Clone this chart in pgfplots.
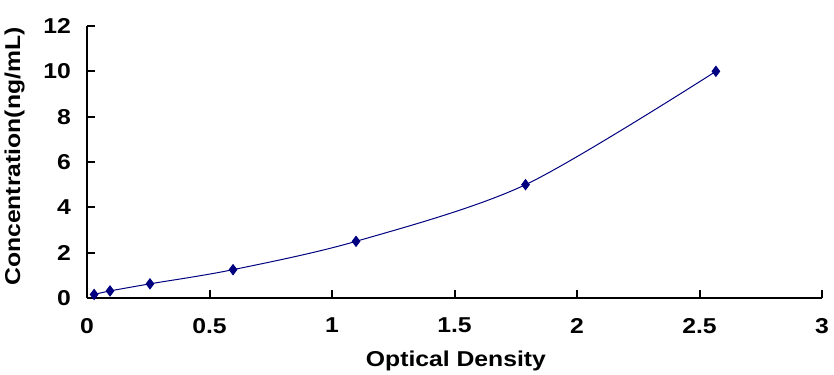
\documentclass[border=0pt]{standalone}
\usepackage{pgfplots}
\pgfplotsset{compat=1.18}
\usepackage{fontspec}
\setmainfont{Liberation Sans}[FakeStretch=1.15]
\definecolor{navy}{RGB}{0,0,128}
\newcommand{\lf}{\fontsize{21.5}{24}\selectfont\bfseries}
\begin{document}
\begin{tikzpicture}
\begin{axis}[
  scale only axis,
  width=735pt, height=272pt,
  xmin=0, xmax=3, ymin=0, ymax=12,
  xtick={0,0.5,1,1.5,2,2.5,3},
  xticklabels={0,0.5,1,1.5,2,2.5,3},
  ytick={0,2,4,6,8,10,12},
  yticklabels={0,2,4,6,8,10,12},
  axis x line*=bottom, axis y line*=left,
  axis line style={line width=2pt, black, -},
  tick style={line width=2pt, black},
  major tick length=8pt,
  tick align=inside,
  font=\lf,
  yticklabel style={anchor=east, inner sep=0pt, xshift=-16pt, font=\lf},
  xticklabel style={anchor=north, inner sep=0pt, yshift=-20pt, font=\lf},
  xlabel={Optical Density},
  ylabel={Concentration(ng/mL)},
  label style={font=\lf},
  xlabel style={at={(axis description cs:0.502,-0.2316)}, anchor=center},
  ylabel style={at={(axis description cs:-0.0986,0.520)}, anchor=center},
  clip=false,
]
\addplot[navy, line width=1pt, smooth, tension=0.5, mark=diamond*, mark size=5pt,
  mark options={fill=navy, draw=navy}]
coordinates {
(0.029,0.156) (0.094,0.312) (0.257,0.625) (0.596,1.25) (1.098,2.5) (1.79,5) (2.567,10)
};
\end{axis}
\useasboundingbox (-87pt,-75pt) rectangle (747pt,298pt);
\end{tikzpicture}
\end{document}
